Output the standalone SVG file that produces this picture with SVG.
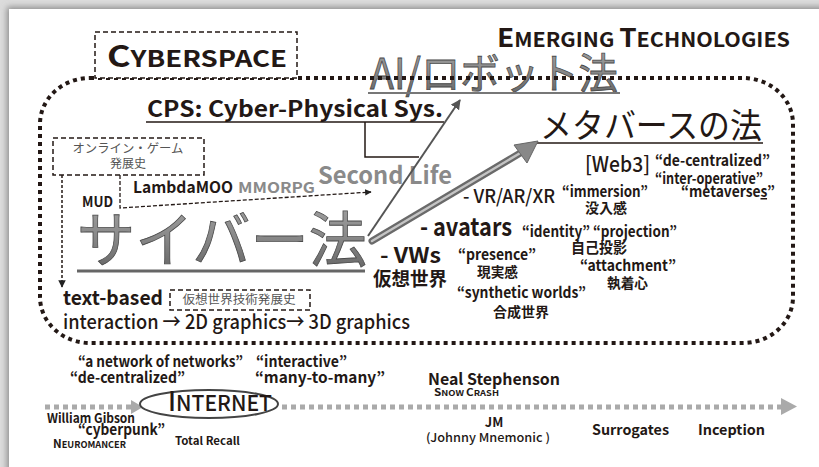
<svg xmlns="http://www.w3.org/2000/svg" width="819" height="467" viewBox="0 0 819 467">
<defs>
  <filter id="sh" x="-5%" y="-5%" width="110%" height="110%">
    <feDropShadow dx="-2" dy="-2" stdDeviation="3" flood-color="#777" flood-opacity="0.8"/>
  </filter>
  <linearGradient id="g3d" x1="0" y1="0" x2="0" y2="1">
    <stop offset="0" stop-color="#a8a8a8"/>
    <stop offset="0.5" stop-color="#8a8a8a"/>
    <stop offset="1" stop-color="#5e5e5e"/>
  </linearGradient>
  <linearGradient id="gbar" x1="0" y1="0" x2="0" y2="1">
    <stop offset="0" stop-color="#666"/>
    <stop offset="0.5" stop-color="#c8c8c8"/>
    <stop offset="1" stop-color="#666"/>
  </linearGradient>
  <marker id="ah" viewBox="0 0 10 10" refX="9" refY="5" markerWidth="5" markerHeight="5" orient="auto" markerUnits="strokeWidth">
    <path d="M0,0 L10,5 L0,10 z" fill="#555"/>
  </marker>
  <marker id="ahs" viewBox="0 0 10 10" refX="9" refY="5" markerWidth="5" markerHeight="5" orient="auto" markerUnits="strokeWidth">
    <path d="M0,0 L10,5 L0,10 z" fill="#222"/>
  </marker>
</defs>
<style>
  text { font-family: "Noto Sans CJK JP", "Noto Sans", sans-serif; fill: #231815; }
  .b { font-weight: 700; }
  .m { font-weight: 500; }
  .g { fill: #555; font-weight: 400; }
  .gray { fill: #8a8a8a; font-weight: 700; }
  .big { fill: url(#g3d); stroke: #4a4a4a; stroke-width: 0.8; font-weight: 400; }
  .dbox { fill: #fff; stroke: #231815; stroke-width: 1.5; stroke-dasharray: 5 3; }
  .dots { fill: none; stroke: #231815; stroke-width: 4; stroke-dasharray: 4 4; }
  .gdots { fill: none; stroke: #aaa; stroke-width: 5; stroke-dasharray: 5 4; }
</style>
<rect x="0" y="0" width="819" height="467" fill="#dcdcdc"/>
<rect x="9" y="9" width="830" height="480" fill="#fff" filter="url(#sh)"/>

<!-- Big 3D titles (under the dotted frame) -->
<g id="ai-law">
  <text class="big" x="370" y="89" font-size="42" textLength="248" lengthAdjust="spacingAndGlyphs">AI/ロボット法</text>
  <line x1="368" y1="93" x2="620" y2="93" stroke="#777" stroke-width="2"/>
</g>

<!-- Cyberspace dotted frame -->
<g id="cyberspace-frame">
  <rect class="dots" x="40" y="78" width="753" height="265" rx="50" ry="46"/>
</g>

<g id="cyberspace-label">
  <rect class="dbox" x="95" y="32" width="202" height="46"/>
  <text class="b" x="107" y="67" textLength="180" lengthAdjust="spacingAndGlyphs"><tspan font-size="30">C</tspan><tspan font-size="23">YBERSPACE</tspan></text>
</g>

<g id="emerging">
  <text class="b" x="497" y="47" textLength="293" lengthAdjust="spacingAndGlyphs"><tspan font-size="26">E</tspan><tspan font-size="20">MERGING </tspan><tspan font-size="26">T</tspan><tspan font-size="20">ECHNOLOGIES</tspan></text>
</g>

<g id="cps">
  <text class="b" x="147" y="117" font-size="22" textLength="296" lengthAdjust="spacingAndGlyphs">CPS: Cyber-Physical Sys.</text>
  <line x1="146" y1="122" x2="444" y2="122" stroke="#231815" stroke-width="1.5"/>
</g>

<g id="metaverse-law">
  <text x="540" y="138" font-size="34" textLength="222" lengthAdjust="spacingAndGlyphs">メタバースの法</text>
  <line x1="537" y1="143" x2="763" y2="143" stroke="#231815" stroke-width="1.5"/>
</g>

<g id="web3">
  <text class="m" x="585" y="172" font-size="21" textLength="65" lengthAdjust="spacingAndGlyphs">[Web3]</text>
  <text class="b" x="655" y="166" font-size="15" textLength="115" lengthAdjust="spacingAndGlyphs">“de-centralized”</text>
  <text class="b" x="655" y="184" font-size="15" textLength="108" lengthAdjust="spacingAndGlyphs">“inter-operative”</text>
  <text class="b" x="681" y="197" font-size="15" textLength="94" lengthAdjust="spacingAndGlyphs">“metaverse<tspan text-decoration="underline">s</tspan>”</text>
</g>

<g id="vrarxr">
  <text class="m" x="463" y="203" font-size="19" textLength="92" lengthAdjust="spacingAndGlyphs">- VR/AR/XR</text>
  <text class="b" x="562" y="197" font-size="15" textLength="86" lengthAdjust="spacingAndGlyphs">“immersion”</text>
  <text class="b" x="585" y="213" font-size="14" textLength="42" lengthAdjust="spacingAndGlyphs">没入感</text>
</g>

<g id="avatars">
  <text class="b" x="420" y="236" font-size="25" textLength="92" lengthAdjust="spacingAndGlyphs">- avatars</text>
  <text class="b" x="522" y="237" font-size="15" textLength="155" lengthAdjust="spacingAndGlyphs">“identity” “projection”</text>
  <text class="b" x="571" y="253" font-size="15" textLength="56" lengthAdjust="spacingAndGlyphs">自己投影</text>
  <text class="b" x="580" y="271" font-size="15" textLength="96" lengthAdjust="spacingAndGlyphs">“attachment”</text>
  <text class="b" x="607" y="288" font-size="14" textLength="41" lengthAdjust="spacingAndGlyphs">執着心</text>
</g>

<g id="vws">
  <text class="b" x="380" y="263" font-size="21" textLength="61" lengthAdjust="spacingAndGlyphs">-  VWs</text>
  <text class="b" x="373" y="286" font-size="19" textLength="74" lengthAdjust="spacingAndGlyphs">仮想世界</text>
  <text class="b" x="458" y="260" font-size="15" textLength="78" lengthAdjust="spacingAndGlyphs">“presence”</text>
  <text class="b" x="477" y="277" font-size="14" textLength="41" lengthAdjust="spacingAndGlyphs">現実感</text>
  <text class="b" x="457" y="298" font-size="15" textLength="129" lengthAdjust="spacingAndGlyphs">“synthetic worlds”</text>
  <text class="b" x="493" y="317" font-size="14" textLength="56" lengthAdjust="spacingAndGlyphs">合成世界</text>
</g>

<g id="online-game-box">
  <rect class="dbox" x="53" y="138" width="151" height="37"/>
  <text class="g" x="128" y="153" font-size="12" text-anchor="middle" textLength="111" lengthAdjust="spacingAndGlyphs">オンライン・ゲーム</text>
  <text class="g" x="128" y="168" font-size="12" text-anchor="middle">発展史</text>
</g>

<g id="games">
  <text class="b" x="82" y="207" font-size="14" textLength="31" lengthAdjust="spacingAndGlyphs">MUD</text>
  <text class="b" x="133" y="193" font-size="16" textLength="100" lengthAdjust="spacingAndGlyphs">LambdaMOO</text>
  <text class="gray" x="238" y="193" font-size="15" textLength="77" lengthAdjust="spacingAndGlyphs">MMORPG</text>
  <text class="gray" x="318" y="184" font-size="24" textLength="134" lengthAdjust="spacingAndGlyphs">Second Life</text>
</g>

<g id="cyber-law">
  <text class="big" x="77" y="262" font-size="60" textLength="290" lengthAdjust="spacingAndGlyphs">サイバー法</text>
  <line x1="77" y1="271" x2="365" y2="271" stroke="#666" stroke-width="3"/>
</g>

<g id="vw-history">
  <text class="b" x="63" y="305" font-size="20" textLength="100" lengthAdjust="spacingAndGlyphs">text-based</text>
  <rect class="dbox" x="170" y="290" width="140" height="20"/>
  <text class="g" x="239" y="304" font-size="12" text-anchor="middle" textLength="113" lengthAdjust="spacingAndGlyphs">仮想世界技術発展史</text>
  <text class="m" x="63" y="329" font-size="20" textLength="347" lengthAdjust="spacingAndGlyphs">interaction → 2D graphics→ 3D graphics</text>
</g>

<!-- Connectors -->
<g id="connectors">
  <polyline points="365,122 365,157 419,157" fill="none" stroke="#231815" stroke-width="1.5"/>
  <line x1="368" y1="236" x2="460" y2="100" stroke="#555" stroke-width="2" marker-end="url(#ah)"/>
  <line x1="372" y1="241" x2="522" y2="152" stroke="#6a6a6a" stroke-width="7" stroke-linecap="round"/>
  <line x1="372" y1="241" x2="522" y2="152" stroke="#c4c4c4" stroke-width="2.5" stroke-linecap="round"/>
  <polygon points="538,141 527,163 514,145" fill="#888" stroke="#666" stroke-width="1"/>
  <line x1="62" y1="175" x2="62" y2="287" stroke="#231815" stroke-width="1.5" stroke-dasharray="3 2" marker-end="url(#ahs)"/>
  <polyline points="120,175 120,208 371,192" fill="none" stroke="#231815" stroke-width="1.3" stroke-dasharray="4 2" marker-end="url(#ahs)"/>
  <line x1="45" y1="407" x2="131" y2="407" class="gdots"/>
  <polygon points="131,400 143,407 131,414" fill="#aaa"/>
  <line x1="282" y1="407" x2="781" y2="407" class="gdots"/>
  <polygon points="781,398 797,406.5 781,415" fill="#aaa"/>
</g>

<g id="internet-labels">
  <text class="b" x="78" y="367" font-size="15" textLength="165" lengthAdjust="spacingAndGlyphs">“a network of networks”</text>
  <text class="b" x="70" y="383" font-size="15" textLength="115" lengthAdjust="spacingAndGlyphs">“de-centralized”</text>
  <text class="b" x="256" y="367" font-size="15" textLength="91" lengthAdjust="spacingAndGlyphs">“interactive”</text>
  <text class="b" x="255" y="383" font-size="15" textLength="130" lengthAdjust="spacingAndGlyphs">“many-to-many”</text>
</g>

<g id="internet">
  <ellipse cx="209" cy="404" rx="69" ry="14" fill="none" stroke="#444" stroke-width="2"/>
  <text class="m" x="168" y="411" textLength="104" lengthAdjust="spacingAndGlyphs"><tspan font-size="27">I</tspan><tspan font-size="22">NTERNET</tspan></text>
</g>

<g id="timeline-labels">
  <text class="b" x="47" y="423" font-size="13" textLength="88" lengthAdjust="spacingAndGlyphs">William Gibson</text>
  <text class="b" x="78" y="435" font-size="15" textLength="87" lengthAdjust="spacingAndGlyphs">“cyberpunk”</text>
  <text class="b" x="53" y="448" textLength="73" lengthAdjust="spacingAndGlyphs"><tspan font-size="12">N</tspan><tspan font-size="9.5">EUROMANCER</tspan></text>
  <text class="b" x="175" y="445" font-size="11" textLength="65" lengthAdjust="spacingAndGlyphs">Total Recall</text>
  <text class="b" x="428" y="385" font-size="16" textLength="132" lengthAdjust="spacingAndGlyphs">Neal Stephenson</text>
  <text class="b" x="434" y="396" textLength="65" lengthAdjust="spacingAndGlyphs"><tspan font-size="10">S</tspan><tspan font-size="8">NOW </tspan><tspan font-size="10">C</tspan><tspan font-size="8">RASH</tspan></text>
  <text class="b" x="494" y="427" font-size="13" text-anchor="middle">JM</text>
  <text class="m" x="426" y="442" font-size="12" textLength="124" lengthAdjust="spacingAndGlyphs">(Johnny Mnemonic )</text>
  <text class="b" x="592" y="435" font-size="14" textLength="77" lengthAdjust="spacingAndGlyphs">Surrogates</text>
  <text class="b" x="698" y="435" font-size="14" textLength="67" lengthAdjust="spacingAndGlyphs">Inception</text>
</g>
</svg>
